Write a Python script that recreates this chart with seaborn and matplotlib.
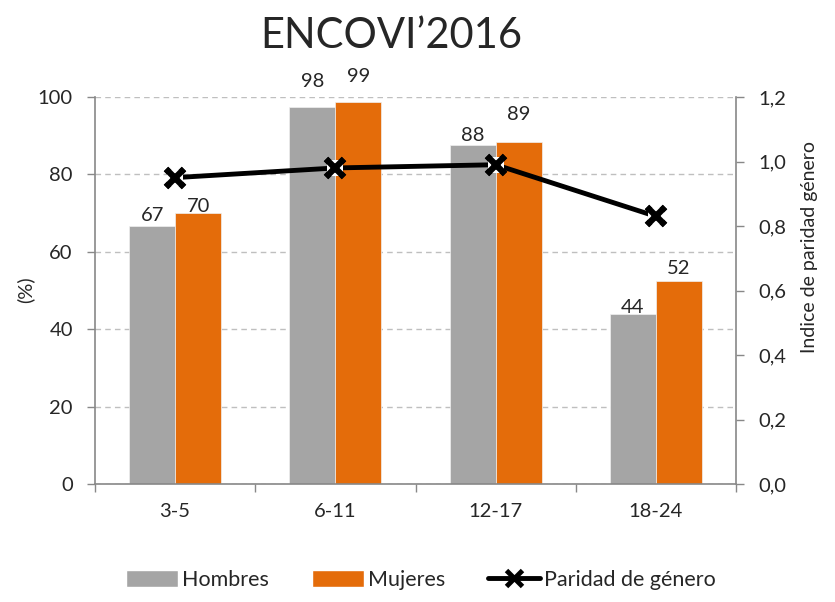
import pandas as pd
import matplotlib.pyplot as plt
import seaborn as sns
from matplotlib.lines import Line2D
from matplotlib.patches import Patch
from matplotlib.ticker import FuncFormatter

# Data
grupos = ['3-5', '6-11', '12-17', '18-24']
hombres = [66.6, 97.4, 87.5, 44.0]
mujeres = [70.1, 98.8, 88.5, 52.4]
paridad = [0.95, 0.98, 0.99, 0.83]
etiquetas_h = ['67', '98', '88', '44']
etiquetas_m = ['70', '99', '89', '52']

gris = '#A5A5A5'
naranja = '#E46C0A'

df = pd.DataFrame({
    'grupo': grupos * 2,
    'valor': hombres + mujeres,
    'sexo': ['Hombres'] * 4 + ['Mujeres'] * 4,
})

sns.set_style('white')
plt.rcParams['font.family'] = ['Lato', 'DejaVu Sans']

fig = plt.figure(figsize=(8.35, 6.02), dpi=100)
ax = fig.add_axes([95 / 835, 1 - 484 / 602, 641 / 835, 387 / 602])

sns.barplot(data=df, x='grupo', y='valor', hue='sexo', palette=[gris, naranja],
            saturation=1, width=0.575, gap=0, ax=ax, legend=False,
            edgecolor='#f0f0f0', linewidth=0.5)

ax.set_ylim(0, 100)
ax.set_xlim(-0.5, 3.5)
ax.set_yticks([0, 20, 40, 60, 80, 100])
ax.yaxis.grid(True, linestyle=(0, (4, 3)), color='#BFBFBF', linewidth=1)
ax.set_axisbelow(True)
ax.set_xlabel('')
ax.set_ylabel('')
ax.tick_params(axis='y', labelsize=14.5, length=6, width=1, color='#888888',
               direction='out', left=True, pad=10)
ax.tick_params(axis='x', which='major', labelsize=14.5, length=0, pad=14)
ax.set_xticks([-0.5, 0.5, 1.5, 2.5, 3.5], minor=True)
ax.tick_params(axis='x', which='minor', length=6, width=1, color='#888888',
               direction='out', bottom=True)
for s in ['left', 'bottom', 'right']:
    ax.spines[s].set_color('#888888')
    ax.spines[s].set_linewidth(1.2)
ax.spines['top'].set_visible(False)

# value labels (offsets in points as in the original layout)
off_h = [1.5, 12, 0.7, -1.5]
off_m = [-2, 12, 13, 3]
for cont, labs, offs in zip(ax.containers, [etiquetas_h, etiquetas_m], [off_h, off_m]):
    for bar, lab, off in zip(cont, labs, offs):
        ax.annotate(lab, (bar.get_x() + bar.get_width() / 2, bar.get_height()),
                    xytext=(0, off), textcoords='offset points',
                    ha='center', va='bottom', fontsize=14.5)

# secondary axis: gender parity index
ax2 = ax.twinx()
sns.pointplot(x=grupos, y=paridad, ax=ax2, color='black', markers='x',
              linestyles='-', markersize=13, markeredgewidth=4.5, linewidth=3.5)
sns.pointplot(x=grupos, y=paridad, ax=ax2, color='white', markers='s',
              linestyles='none', markersize=11, markeredgewidth=0)
sns.pointplot(x=grupos, y=paridad, ax=ax2, color='black', markers='x',
              linestyles='none', markersize=13, markeredgewidth=4.5)
ax2.set_xlim(-0.5, 3.5)
ax2.set_ylim(0, 1.2)
ax2.set_yticks([0, 0.2, 0.4, 0.6, 0.8, 1.0, 1.2])
ax2.yaxis.set_major_formatter(FuncFormatter(lambda v, p: f'{v:.1f}'.replace('.', ',')))
ax2.tick_params(axis='y', labelsize=14.5, length=6, width=1, color='#888888',
                direction='out', right=True, pad=10)
ax2.set_ylabel('')
for s in ['left', 'bottom', 'right', 'top']:
    ax2.spines[s].set_visible(False)
ax2.grid(False)

fig.text(391 / 835, 1 - 36 / 602, 'ENCOVI\u20192016', ha='center', va='center', fontsize=30)
fig.text(25 / 835, 1 - 290 / 602, '(%)', rotation=90, ha='center', va='center', fontsize=14.5)
fig.text(809 / 835, 1 - 247 / 602, 'Indice de paridad género', rotation=90,
         ha='center', va='center', fontsize=14)

handles = [
    Patch(facecolor=gris, label='Hombres'),
    Patch(facecolor=naranja, label='Mujeres'),
    Line2D([0], [0], color='black', marker='x', markersize=11, markeredgewidth=3.5,
           linewidth=3.5, label='Paridad de género'),
]
fig.legend(handles=handles, loc='center', bbox_to_anchor=(421 / 835, 1 - 580 / 602),
           ncol=3, frameon=False, fontsize=15.5, handlelength=2.4, handleheight=0.8,
           columnspacing=2.0, handletextpad=0.2)

fig.savefig('out.png', dpi=100)
